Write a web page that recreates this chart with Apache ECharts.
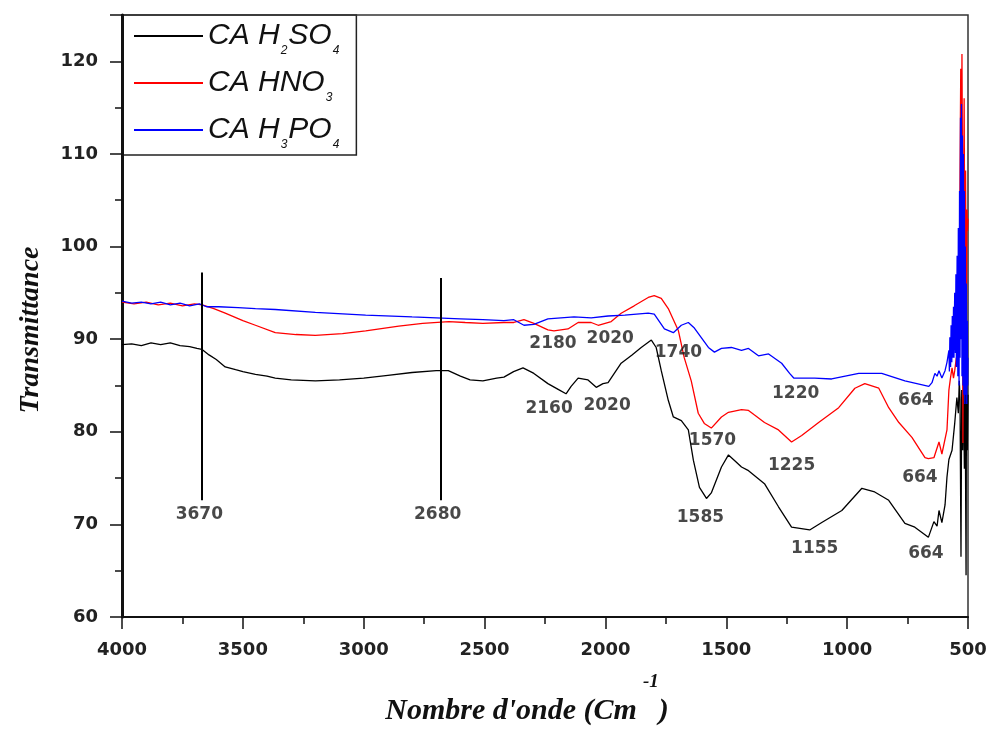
<!DOCTYPE html>
<html>
<head>
<meta charset="utf-8">
<script src="https://cdn.jsdelivr.net/npm/echarts@6/dist/echarts.min.js"></script>
<style>
html,body{margin:0;padding:0;background:#fff;}
#mycharts{width:987px;height:729px;}
</style>
</head>
<body>
<div id="mycharts"></div>
<script>
// spectra: [wavenumber, transmittance]
const h2so4 = [[4000,89.4],[3960,89.5],[3920,89.3],[3880,89.6],[3840,89.4],[3800,89.6],[3760,89.3],[3720,89.2],[3690,89.0],[3670,88.9],[3640,88.3],[3610,87.8],[3573,87.0],[3530,86.7],[3500,86.5],[3448,86.2],[3400,86.0],[3366,85.8],[3300,85.6],[3200,85.5],[3100,85.6],[3000,85.8],[2900,86.1],[2800,86.4],[2700,86.6],[2650,86.6],[2600,86.0],[2560,85.6],[2507,85.5],[2450,85.8],[2420,85.9],[2380,86.5],[2341,86.9],[2310,86.5],[2296,86.3],[2238,85.2],[2190,84.5],[2163,84.1],[2142,84.9],[2113,85.8],[2072,85.6],[2038,84.8],[2010,85.2],[1989,85.3],[1935,87.4],[1890,88.3],[1852,89.1],[1810,89.9],[1790,89.1],[1769,86.6],[1740,83.4],[1719,81.6],[1686,81.2],[1657,80.2],[1636,76.9],[1611,74.0],[1582,72.8],[1562,73.4],[1520,76.2],[1491,77.5],[1466,76.9],[1437,76.2],[1408,75.8],[1342,74.4],[1284,71.9],[1230,69.7],[1155,69.4],[1105,70.2],[1022,71.5],[939,73.9],[886,73.5],[828,72.6],[761,70.1],[720,69.7],[664,68.6],[641,70.3],[628,69.8],[620,71.5],[608,70.2],[595,72.1],[587,75.1],[579,77.0],[566,78.0],[555,80.9],[546,83.7],[540,82.0],[536,85.5],[533,83.5],[529,66.5],[526,84.5],[522,78.0],[519,86.0],[515,76.0],[512,85.0],[508,64.5],[506,88.8],[503,78.0],[500,84.0]];

const hno3 = [[4000,94.0],[3950,93.8],[3900,94.0],[3850,93.7],[3800,93.9],[3750,93.6],[3700,93.8],[3668,93.7],[3620,93.3],[3573,92.8],[3500,92.0],[3448,91.5],[3366,90.7],[3280,90.5],[3200,90.4],[3088,90.6],[2992,90.9],[2855,91.4],[2756,91.7],[2648,91.9],[2580,91.8],[2507,91.7],[2420,91.8],[2379,91.8],[2337,92.1],[2296,91.7],[2238,91.0],[2213,90.9],[2155,91.1],[2113,91.8],[2059,91.8],[2030,91.5],[1976,91.9],[1935,92.8],[1881,93.6],[1823,94.5],[1798,94.7],[1769,94.4],[1740,93.3],[1698,90.9],[1674,88.0],[1645,85.5],[1616,82.0],[1591,80.9],[1562,80.4],[1520,81.6],[1491,82.1],[1437,82.4],[1408,82.3],[1383,81.8],[1342,81.0],[1284,80.2],[1230,78.9],[1188,79.6],[1118,81.0],[1035,82.6],[968,84.7],[927,85.2],[869,84.7],[828,82.6],[786,81.0],[732,79.4],[678,77.2],[664,77.1],[641,77.2],[620,78.9],[608,77.6],[600,77.7],[587,80.2],[579,84.5],[572,85.9],[566,86.9],[560,85.8],[555,86.6],[548,88.0],[540,87.0],[536,95.0],[533,108.0],[530,119.2],[527,108.0],[525,120.8],[523,110.0],[521,78.8],[519,100.0],[516,116.0],[513,96.0],[510,108.2],[507,90.0],[504,104.0],[502,101.7],[500,103.0]];

const h3po4 = [[4000,94.1],[3960,93.9],[3920,94.0],[3880,93.8],[3840,94.0],[3800,93.7],[3760,93.9],[3720,93.6],[3680,93.8],[3650,93.5],[3600,93.5],[3520,93.4],[3448,93.3],[3366,93.2],[3200,92.9],[2992,92.6],[2800,92.4],[2700,92.3],[2600,92.2],[2507,92.1],[2420,92.0],[2379,92.1],[2337,91.5],[2296,91.6],[2238,92.2],[2130,92.4],[2059,92.3],[1989,92.5],[1920,92.6],[1823,92.8],[1798,92.7],[1756,91.1],[1719,90.7],[1686,91.5],[1657,91.8],[1632,91.2],[1574,89.1],[1549,88.6],[1520,89.0],[1479,89.1],[1437,88.8],[1408,89.0],[1367,88.2],[1325,88.4],[1271,87.4],[1238,86.3],[1221,85.8],[1134,85.8],[1064,85.7],[952,86.3],[857,86.3],[761,85.5],[662,84.9],[649,85.3],[637,86.3],[628,86.0],[620,86.6],[608,85.8],[595,86.6],[587,87.5],[579,88.8],[577,86.5],[575,90.2],[572,87.0],[570,91.5],[567,87.5],[565,92.5],[562,88.0],[560,93.5],[558,88.0],[555,95.0],[552,88.5],[550,97.0],[548,87.0],[545,99.0],[542,86.0],[540,102.0],[537,85.0],[535,106.0],[533,88.0],[531,113.9],[529,90.0],[527,115.4],[525,86.0],[523,112.0],[521,85.0],[519,110.0],[517,84.0],[515,106.0],[513,83.0],[511,100.0],[509,84.0],[507,96.0],[505,83.0],[503,92.0],[501,85.0],[500,88.0]];

const seriesNames = ['CA H2SO4', 'CA HNO3', 'CA H3PO4'];
const seriesColors = ['#000000', '#ff0000', '#0000ff'];

// vertical marker lines: [wavenumber, top, bottom]
const markers = [[3670, 97.2, 72.6], [2680, 96.6, 72.6]];

// peak labels: [wavenumber, transmittance, text]
const peakLabels = [
  [3680, 71.1, '3670'], [2694, 71.1, '2680'],
  [2217, 89.5, '2180'], [1980, 90.1, '2020'], [1698, 88.6, '1740'],
  [2233, 82.5, '2160'], [1993, 82.8, '2020'],
  [1557, 79.0, '1570'], [1213, 84.1, '1220'], [1230, 76.3, '1225'],
  [1607, 70.7, '1585'], [1134, 67.4, '1155'],
  [716, 83.4, '664'], [699, 75.0, '664'], [674, 66.9, '664']
];

const legendRich = {
  'CA H2SO4': '{n|CA H}{s|2}{n|SO}{s|4}',
  'CA HNO3': '{n|CA HNO}{s|3}',
  'CA H3PO4': '{n|CA H}{s|3}{n|PO}{s|4}'
};

const mCharts = echarts.init(document.getElementById('mycharts'));

const tickFont = {
  color: '#222',
  fontFamily: 'DejaVu Sans',
  fontWeight: 'bold',
  fontSize: 18,
  formatter: (v) => String(v)
};

const option = {
  backgroundColor: '#fff',
  animation: false,
  grid: {
    left: 122,
    right: 19,
    top: 15,
    bottom: 112,
    show: true,
    borderColor: '#333',
    borderWidth: 1.5,
    containLabel: false,
    outerBoundsMode: 'none'
  },
  legend: {
    data: seriesNames,
    orient: 'vertical',
    left: 122,
    top: 15,
    z: -1,
    icon: 'rect',
    itemWidth: 69,
    itemHeight: 2,
    itemGap: 5,
    padding: [0, 16, 4, 12],
    borderColor: '#222',
    borderWidth: 1.5,
    borderRadius: 0,
    backgroundColor: '#fff',
    formatter: (name) => legendRich[name],
    textStyle: {
      rich: {
        n: {
          fontFamily: 'Liberation Sans',
          fontStyle: 'italic',
          fontSize: 30,
          color: '#111',
          lineHeight: 26,
          padding: [6, 0, 6, 0],
          verticalAlign: 'middle'
        },
        s: {
          fontFamily: 'Liberation Sans',
          fontStyle: 'italic',
          fontSize: 12,
          color: '#111',
          lineHeight: 12,
          padding: [29, 1, 0, 1],
          verticalAlign: 'middle'
        }
      }
    }
  },
  xAxis: {
    type: 'value',
    inverse: true,
    min: 500,
    max: 4000,
    interval: 500,
    name: "{a|Nombre d'onde (Cm}{sup|-1}{a|)}",
    nameLocation: 'middle',
    nameGap: 79,
    nameTextStyle: {
      padding: [0, 36, 0, 0],
      rich: {
        a: {
          fontFamily: 'Liberation Serif',
          fontStyle: 'italic',
          fontWeight: 'bold',
          fontSize: 30,
          color: '#111',
          lineHeight: 30,
          verticalAlign: 'middle'
        },
        sup: {
          fontFamily: 'Liberation Serif',
          fontStyle: 'italic',
          fontWeight: 'bold',
          fontSize: 19,
          color: '#111',
          lineHeight: 18,
          padding: [0, 0, 58, 6],
          verticalAlign: 'middle'
        }
      }
    },
    axisLine: { show: true, lineStyle: { color: '#111', width: 2 } },
    axisTick: { show: true, inside: false, length: 12, lineStyle: { color: '#111', width: 1.5 } },
    minorTick: { show: true, splitNumber: 2, length: 7, lineStyle: { color: '#111', width: 1.5 } },
    splitLine: { show: false },
    axisLabel: Object.assign({ margin: 24 }, tickFont)
  },
  yAxis: {
    type: 'value',
    min: 60,
    max: 125,
    interval: 10,
    name: 'Transmittance',
    nameLocation: 'middle',
    nameGap: 77,
    nameTextStyle: {
      fontFamily: 'Liberation Serif',
      fontStyle: 'italic',
      fontWeight: 'bold',
      fontSize: 28,
      color: '#111',
      padding: [0, 28, 0, 0]
    },
    axisLine: { show: true, lineStyle: { color: '#111', width: 3 } },
    axisTick: { show: true, inside: false, length: 12, lineStyle: { color: '#111', width: 1.5 } },
    minorTick: { show: true, splitNumber: 2, length: 7, lineStyle: { color: '#111', width: 1.5 } },
    splitLine: { show: false },
    axisLabel: Object.assign({ margin: 24, showMaxLabel: false }, tickFont)
  },
  series: [
    {
      name: seriesNames[0],
      type: 'line',
      data: h2so4,
      symbol: 'none',
      color: seriesColors[0],
      lineStyle: { color: seriesColors[0], width: 1.3 },
      z: 2,
      markLine: {
        silent: true,
        symbol: ['none', 'none'],
        label: { show: false },
        lineStyle: { color: '#000', width: 2, type: 'solid' },
        data: markers.map((m) => [{ coord: [m[0], m[1]] }, { coord: [m[0], m[2]] }])
      }
    },
    {
      name: seriesNames[1],
      type: 'line',
      data: hno3,
      symbol: 'none',
      color: seriesColors[1],
      lineStyle: { color: seriesColors[1], width: 1.3 },
      z: 3
    },
    {
      name: seriesNames[2],
      type: 'line',
      data: h3po4,
      symbol: 'none',
      color: seriesColors[2],
      lineStyle: { color: seriesColors[2], width: 1.3 },
      z: 4
    },
    {
      name: 'peaks',
      type: 'scatter',
      data: peakLabels,
      symbolSize: 1,
      silent: true,
      itemStyle: { color: 'rgba(0,0,0,0)' },
      z: 5,
      label: {
        show: true,
        position: 'inside',
        formatter: (p) => p.value[2],
        color: '#1a1a1a',
        fontFamily: 'DejaVu Sans',
        fontWeight: 'bold',
        fontSize: 17
      }
    }
  ]
};

mCharts.setOption(option);
</script>
</body>
</html>
